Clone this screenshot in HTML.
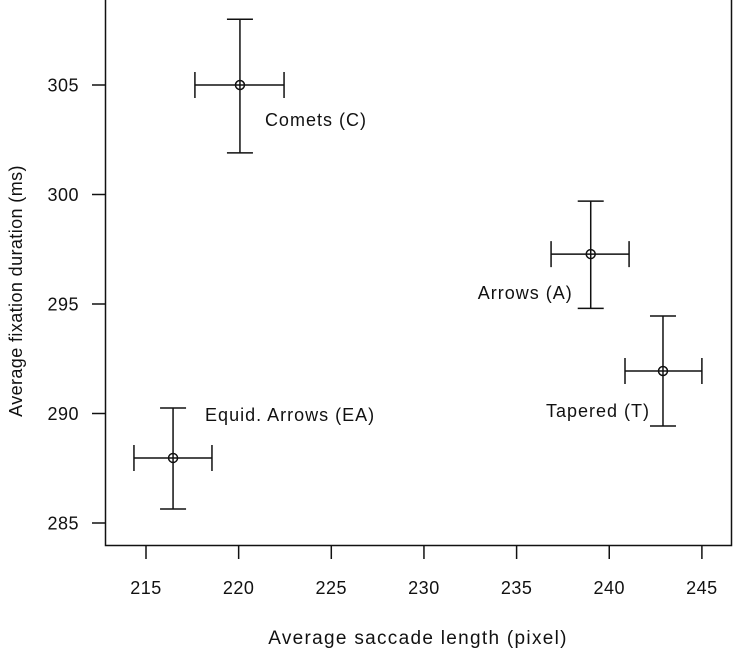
<!DOCTYPE html>
<html><head><meta charset="utf-8"><style>
body{margin:0;background:#fff}
svg{display:block;font-family:"Liberation Sans",sans-serif}
</style></head><body>
<svg id="chart" width="736" height="658" viewBox="0 0 736 658">
<g id="axes"></g><g id="marks"></g>
<text x="418" y="644" font-size="19" letter-spacing="1.3" text-anchor="middle" fill="#111">Average saccade length (pixel)</text>
<text transform="translate(22,291) rotate(-90)" font-size="18" letter-spacing="0.4" text-anchor="middle" fill="#111">Average fixation duration (ms)</text>
</svg>
<script>
const categories=["Comets (C)","Equid. Arrows (EA)","Arrows (A)","Tapered (T)"];
const xMean=[220.07,216.46,239.0,242.9];
const xLow=[217.64,214.35,236.86,240.85];
const xHigh=[222.45,218.56,241.07,245.0];
const yMean=[305.0,287.97,297.28,291.94];
const yLow=[301.9,285.64,294.8,289.43];
const yHigh=[308.0,290.25,299.7,294.45];
const xTicks=[215,220,225,230,235,240,245];
const yTicks=[285,290,295,300,305];
const labelDx=[25,32,-18,-13];
const labelDy=[41,-37,45,46];
const labelAnchor=["start","start","end","end"];

const X=v=>146+(v-215)*18.53;
const Y=v=>523-(v-285)*21.9;
const NS="http://www.w3.org/2000/svg";
const axes=document.getElementById('axes'),marks=document.getElementById('marks');
function mk(tag,attrs,parent){const e=document.createElementNS(NS,tag);for(const k in attrs)e.setAttribute(k,attrs[k]);parent.appendChild(e);return e;}
const box=mk('path',{d:'M105.5,0 V545.5 H731.5 V0',fill:'none',stroke:'#111','stroke-width':1.5},axes);


xTicks.forEach(t=>{
 const l=mk('line',{x1:X(t),x2:X(t),y1:545.5,y2:559,stroke:'#111','stroke-width':1.5},axes);
 
 
 const s=mk('text',{x:X(t),y:594,'font-size':18,'letter-spacing':0.5,'text-anchor':'middle',fill:'#111'},axes);s.textContent=t;
 
 
});
yTicks.forEach(t=>{
 const l=mk('line',{x1:92,x2:105.5,y1:Y(t),y2:Y(t),stroke:'#111','stroke-width':1.5},axes);
 
 
 const s=mk('text',{x:79,y:Y(t)+6.5,'font-size':18,'letter-spacing':0.5,'text-anchor':'end',fill:'#111'},axes);s.textContent=t;
 
 
});
categories.forEach((c,i)=>{
 const g=mk('g',{stroke:'#111','stroke-width':1.5,fill:'none'},marks);
 
 
 const cx=X(xMean[i]),cy=Y(yMean[i]),x1=X(xLow[i]),x2=X(xHigh[i]),y1=Y(yHigh[i]),y2=Y(yLow[i]);
 mk('path',{d:`M${x1},${cy}H${x2}M${x1},${cy-13}V${cy+13}M${x2},${cy-13}V${cy+13}M${cx},${y1}V${y2}M${cx-13},${y1}H${cx+13}M${cx-13},${y2}H${cx+13}`},g);
 mk('circle',{cx:cx,cy:cy,r:4.5,fill:'none'},g);
 const t=mk('text',{x:cx+labelDx[i],y:cy+labelDy[i],'font-size':18,'letter-spacing':1,'text-anchor':labelAnchor[i],fill:'#111'},marks);
 t.textContent=c;
 
 
});
</script>
</body></html>
